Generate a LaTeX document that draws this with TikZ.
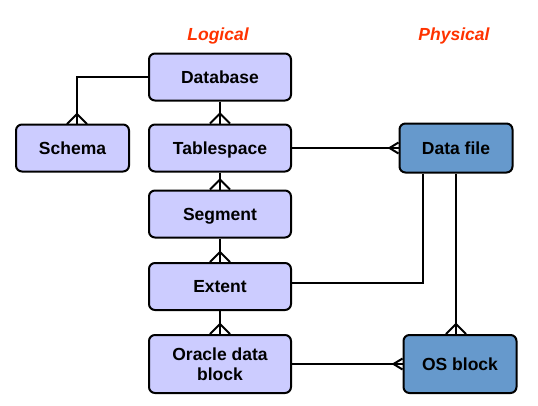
\documentclass[tikz,border=0pt]{standalone}
\usepackage{fontspec}
\setmainfont{Liberation Sans}
\definecolor{light}{HTML}{CCCCFF}
\definecolor{dark}{HTML}{6699CC}
\definecolor{lab}{HTML}{FF3300}
\begin{document}
\begin{tikzpicture}[x=1pt,y=-1pt,
 ent/.style={draw=black, line width=2pt, rounded corners=6pt, fill=light, inner sep=0pt,
   font=\fontsize{17.5}{20}\selectfont\bfseries, align=center,
   minimum width=142pt, minimum height=47pt},
 one/.style={text height=12.5pt, text depth=0pt},
 phys/.style={ent, fill=dark, minimum width=113pt},
 lnk/.style={line width=2pt, draw=black},
 head/.style={font=\fontsize{17.5}{20}\selectfont\bfseries\itshape, text=lab, inner sep=0pt}]
\useasboundingbox (0,0) rectangle (538,405);
\node[head, one] (logical) at (218,34) {Logical};
\node[head, one] (physical) at (454,34) {Physical};
\node[ent, one] (db) at (220,77) {Database};
\node[ent, one, minimum width=113pt] (sc) at (72.5,148) {Schema};
\node[ent, one] (ts) at (220,148) {Tablespace};
\node[ent, one] (sg) at (220,214) {Segment};
\node[ent, one] (ex) at (220,286.5) {Extent};
\node[ent, minimum height=58pt] (ob) at (220,364) {Oracle data\\block};
\node[phys, one, minimum height=49pt] (df) at (456,148) {Data file};
\node[phys, one, minimum height=58pt] (os) at (460,364) {OS block};
\coordinate (scn) at (77,124);
% connectors
\draw[lnk] (db.west) -| (scn);
\draw[lnk] (db.south) -- (ts.north);
\draw[lnk] (ts.south) -- (sg.north);
\draw[lnk] (sg.south) -- (ex.north);
\draw[lnk] (ex.south) -- (ob.north);
\draw[lnk] (ts.east) -- (df.west);
\draw[lnk] ([xshift=-33pt]df.south) |- ([yshift=3.5pt]ex.east);
\draw[lnk] (df.south) -- (df.south |- os.north);
\draw[lnk] (ob.east) -- (os.west);
% crow's feet
\foreach \a in {scn, ts.north, sg.north, ex.north, ob.north, df.south |- os.north}{
  \draw[lnk] ([xshift=-10pt]\a) -- ++(10,-10) -- ++(10,10);
}
\foreach \a in {df.west, os.west}{
  \draw[lnk] ([yshift=5.5pt]\a) -- ++(-9,5.5) -- ++(9,5.5);
}
\end{tikzpicture}
\end{document}
